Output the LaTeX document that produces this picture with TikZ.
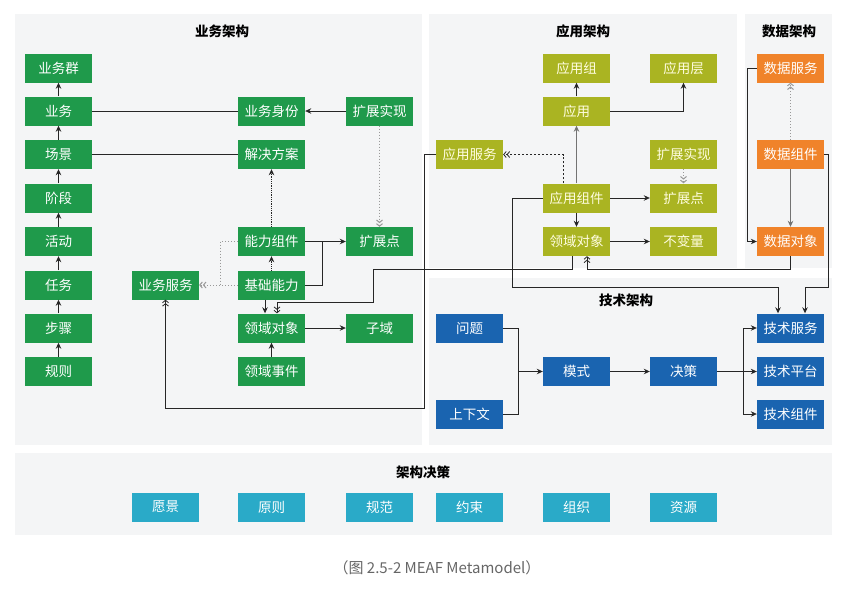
\documentclass[tikz,border=0pt]{standalone}
\usepackage{xcolor}
\usepackage{fontspec}
\usepackage{tikz}
\usetikzlibrary{arrows.meta}
\newfontfamily\cjk{Noto Sans CJK SC}
\definecolor{panelgray}{RGB}{244,245,246}
\definecolor{bizgreen}{RGB}{31,154,75}
\definecolor{appolive}{RGB}{170,180,34}
\definecolor{dataorange}{RGB}{240,131,42}
\definecolor{techblue}{RGB}{26,100,176}
\definecolor{decicyan}{RGB}{42,170,200}
\tikzset{>={Stealth[length=6pt,width=5.5pt]}}
\tikzset{
  box/.style={minimum width=67pt, minimum height=29pt, inner sep=0pt, text=white, font=\cjk\fontsize{13.5}{14}\selectfont},
  biz/.style={box, fill=bizgreen},
  app/.style={box, fill=appolive, text=white!88!yellow},
  dat/.style={box, fill=dataorange},
  tec/.style={box, fill=techblue},
  dec/.style={box, fill=decicyan},
  paneltitle/.style={font=\cjk\bfseries\fontsize{13.5}{14}\selectfont},
  link/.style={line width=0.8pt, black!85},
  dbl/.style={-{Straight Barb[length=2.5pt,width=6pt]Straight Barb[length=2.5pt,width=6pt]}},
  gdot/.style={line width=1pt, gray!80, dotted},
  kdot/.style={line width=0.8pt, black!85, densely dotted},
  kdash/.style={line width=0.8pt, black!85, dash pattern=on 2pt off 2pt}
}

\begin{document}
\begin{tikzpicture}[x=1pt, y=-1pt]
        \useasboundingbox (0,0) rectangle (866,589);
        % panels
        \fill[panelgray] (15,14) rectangle (422,445);
        \fill[panelgray] (429,14) rectangle (737,268);
        \fill[panelgray] (745,14) rectangle (832,268);
        \fill[panelgray] (429,278) rectangle (832,445);
        \fill[panelgray] (15,453) rectangle (832,535);

        \node[paneltitle] (tbiz) at (222,31) {业务架构};
        \node[paneltitle] (tapp) at (583,31) {应用架构};
        \node[paneltitle] (tdat) at (789,31) {数据架构};
        \node[paneltitle] (ttec) at (626,300) {技术架构};
        \node[paneltitle] (tdec) at (423,472) {架构决策};

        % business architecture
        \node[biz] (bgroup) at (58.5,68) {业务群};
        \node[biz] (bbiz) at (58.5,111) {业务};
        \node[biz] (bscene) at (58.5,154.5) {场景};
        \node[biz] (bstage) at (58.5,198) {阶段};
        \node[biz] (bactivity) at (58.5,241.5) {活动};
        \node[biz] (btask) at (58.5,285) {任务};
        \node[biz] (bstep) at (58.5,328) {步骤};
        \node[biz] (brule) at (58.5,371.5) {规则};
        \node[biz] (bidentity) at (271.5,111) {业务身份};
        \node[biz] (bsolution) at (271.5,154.5) {解决方案};
        \node[biz] (bcapcomp) at (271.5,241.5) {能力组件};
        \node[biz] (bbasecap) at (271.5,285) {基础能力};
        \node[biz] (bdomobj) at (271.5,328) {领域对象};
        \node[biz] (bdomevt) at (271.5,371.5) {领域事件};
        \node[biz] (bextimpl) at (379.5,111) {扩展实现};
        \node[biz] (bextpt) at (379.5,241.5) {扩展点};
        \node[biz] (bsubdom) at (379.5,328) {子域};
        \node[biz] (bservice) at (165.5,285) {业务服务};

        % application architecture
        \node[app] (agroup) at (576.5,68) {应用组};
        \node[app] (alayer) at (683.5,68) {应用层};
        \node[app] (aapp) at (576.5,111) {应用};
        \node[app] (aservice) at (469.5,154.5) {应用服务};
        \node[app] (aextimpl) at (683.5,154.5) {扩展实现};
        \node[app] (acomp) at (576.5,198) {应用组件};
        \node[app] (aextpt) at (683.5,198) {扩展点};
        \node[app] (adomobj) at (576.5,241.5) {领域对象};
        \node[app] (ainvar) at (683.5,241.5) {不变量};

        % data architecture
        \node[dat] (dservice) at (790.5,68) {数据服务};
        \node[dat] (dcomp) at (790.5,154.5) {数据组件};
        \node[dat] (dobject) at (790.5,241.5) {数据对象};

        % technical architecture
        \node[tec] (tproblem) at (469.5,328) {问题};
        \node[tec] (tcontext) at (469.5,414) {上下文};
        \node[tec] (tpattern) at (576.5,371.5) {模式};
        \node[tec] (tdecision) at (683.5,371.5) {决策};
        \node[tec] (tservice) at (790.5,328) {技术服务};
        \node[tec] (tplatform) at (790.5,371.5) {技术平台};
        \node[tec] (tcomp) at (790.5,414) {技术组件};

        % architecture decisions
        \node[dec] (dvision) at (165.5,507) {愿景};
        \node[dec] (dprinciple) at (271.5,507) {原则};
        \node[dec] (dnorm) at (379.5,507) {规范};
        \node[dec] (dconstraint) at (469.5,507) {约束};
        \node[dec] (dorg) at (576.5,507) {组织};
        \node[dec] (dresource) at (683.5,507) {资源};

        \node[text=black!60, font=\cjk\fontsize{15}{16}\selectfont] (caption) at (437,568) {（图 2.5-2 MEAF Metamodel）};

        % business links
        \foreach \a/\b in {bbiz/bgroup, bscene/bbiz, bstage/bscene, bactivity/bstage, btask/bactivity, bstep/btask, brule/bstep}
            \draw[link, ->] (\a) -- (\b);
        \draw[link] (bbiz) -- (bidentity);
        \draw[link] (bscene) -- (bsolution);
        \draw[link, ->] (bextimpl) -- (bidentity);
        \draw[gdot, dbl] (bextimpl) -- (bextpt);
        \draw[kdot, ->] (bcapcomp) -- (bsolution);
        \draw[kdot, ->] (bbasecap) -- (bcapcomp);
        \coordinate (bjoin) at (322,241.5);
        \draw[link, ->] (bcapcomp) -- (bextpt);
        \draw[link] (bbasecap.east) -| (bjoin);
        \draw[link, ->] ([xshift=-6.5pt]bbasecap.south) -- ([xshift=-6.5pt]bdomobj.north);
        \draw[link, ->] (bdomobj) -- (bsubdom);
        \draw[link, ->] (bdomevt) -- (bdomobj);
        \coordinate (bdotjoin) at (220,285);
        \draw[gdot, dbl] (bbasecap) -- (bservice);
        \draw[gdot] (bcapcomp.west) -| (bdotjoin);

        % cross links
        \draw[link, dbl] ([xshift=-4.5pt]adomobj.south) |- (373,269) |- (277,302) -- ([xshift=5.5pt]bdomobj.north);
        \draw[link, dbl] (dobject.south) |- (587,269) -- ([xshift=10.5pt]adomobj.south);
        \draw[link, dbl] (aservice.west) -| (424,408) -| (bservice.south);
        \draw[link, ->] (acomp.west) -| (512,287) -| ([xshift=-12.5pt]tservice.north);
        \draw[link, ->] (dcomp.east) -| (828,287) -| ([xshift=14.5pt]tservice.north);

        % application links
        \draw[link, ->] (aapp) -- (agroup);
        \draw[link, ->] (aapp.east) -| (alayer.south);
        \draw[link, ->, black!55] (acomp) -- (aapp);
        \draw[kdash, dbl] ([xshift=-13.5pt]acomp.north) |- (aservice.east);
        \draw[link, ->] (acomp) -- (aextpt);
        \draw[gdot, dbl] (aextimpl) -- (aextpt);
        \draw[link, ->] (acomp) -- (adomobj);
        \draw[link, ->] (adomobj) -- (ainvar);

        % data links
        \draw[link, ->] (dservice.west) -| (747,241.5) -- (dobject.west);
        \draw[link, ->, black!55] (dcomp) -- (dobject);
        \draw[gdot, dbl] (dcomp) -- (dservice);

        % technical links
        \coordinate (tjoin) at (518,371.5);
        \draw[link] (tproblem.east) -| (tjoin);
        \draw[link] (tcontext.east) -| (tjoin);
        \draw[link, ->] (tjoin) -- (tpattern);
        \draw[link, ->] (tpattern) -- (tdecision);
        \draw[link, ->] (tdecision) -- (tplatform);
        \coordinate (tfork) at (743,371.5);
        \draw[link, ->] (tfork) |- (tservice);
        \draw[link, ->] (tfork) |- (tcomp);
\end{tikzpicture}
\end{document}
